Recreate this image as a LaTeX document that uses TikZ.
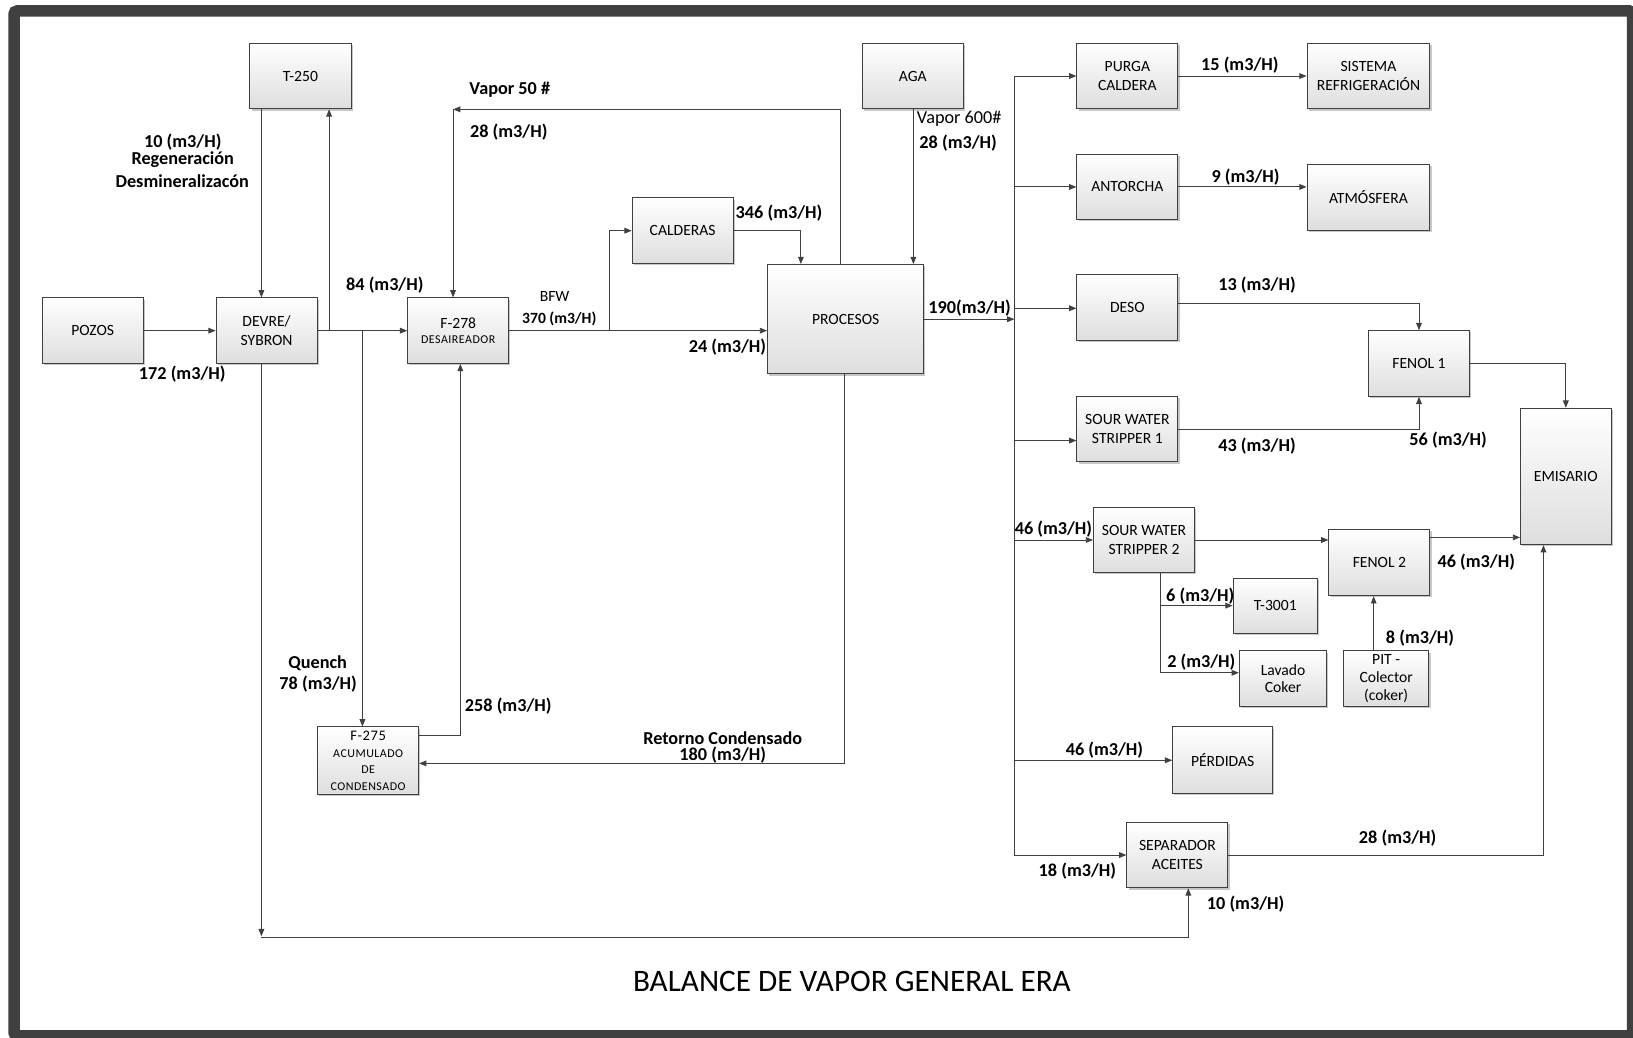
\documentclass[tikz,border=0pt]{standalone}
\usepackage{fontspec}
\setmainfont{Carlito}
\newfontfamily\spacedfont[LetterSpace=4]{Carlito}
\usetikzlibrary{arrows.meta,shadows,calc}

\definecolor{linegray}{HTML}{404040}
\definecolor{framegray}{HTML}{404040}

\tikzset{
  box/.style={draw=linegray, line width=0.9pt, top color=white, bottom color=black!13,
    minimum width=97pt, minimum height=63pt, align=center, inner sep=1pt,
    font=\fontsize{15}{18}\selectfont,
    drop shadow={shadow xshift=1.6pt, shadow yshift=-1.6pt, opacity=0.22, fill=black}},
  smallbox/.style={box, font=\fontsize{15}{17}\selectfont},
  pipe/.style={draw=linegray, line width=0.9pt},
  flow/.style={pipe, -{Triangle[length=7pt,width=5.5pt]}},
  btxt/.style={font=\fontsize{17.5}{20}\selectfont\bfseries, inner sep=0pt},
  rtxt/.style={font=\fontsize{17.5}{20}\selectfont, inner sep=0pt},
}

\begin{document}
\begin{tikzpicture}[x=1pt,y=-1pt]
\useasboundingbox (0,0) rectangle (1568,996);
\clip (0,0) rectangle (1568,996);
\fill[white] (0,0) rectangle (1568,996);

% outer frame
\draw[framegray, line width=11pt, rounded corners=3pt] (13.5,10.5) rectangle (1567.5,994.5);

% ---------------- equipment ----------------
\node[box] (t250)  at (288.5,73)  {T-250};
\node[box] (pozos) at (89,317.5)  {POZOS};
\node[box] (devre) at (256,317.5) {DEVRE/\\SYBRON};
\node[box] (f278)  at (440,317.5) {F-278\\[-3pt]{\spacedfont\fontsize{11.5}{14}\selectfont DESAIREADOR}};
\node[box] (calderas) at (655.5,221.5) {CALDERAS};
\node[box, minimum width=150pt, minimum height=105pt] (procesos) at (812,306.5) {PROCESOS};
\node[box] (aga)   at (876.5,73) {AGA};
\node[box] (purga) at (1082.5,73) {PURGA\\CALDERA};
\node[box, minimum width=118pt] (sistema) at (1314,73) {SISTEMA\\REFRIGERACIÓN};
\node[box] (antorcha) at (1082.5,179.5) {ANTORCHA};
\node[box, minimum width=118pt] (atmosfera) at (1314,189.5) {ATMÓSFERA};
\node[box] (deso)   at (1082.5,295.5) {DESO};
\node[box] (fenol1) at (1362.5,349) {FENOL 1};
\node[box] (sws1)   at (1082.5,412) {SOUR WATER\\STRIPPER 1};
\node[box, minimum width=87pt, minimum height=131pt] (emisario) at (1503.5,457.5) {EMISARIO};
\node[box] (sws2)   at (1098.5,518.5) {SOUR WATER\\STRIPPER 2};
\node[box, minimum height=64pt] (fenol2) at (1324.5,540) {FENOL 2};
\node[smallbox, minimum width=81pt, minimum height=53pt] (t3001) at (1224.5,581.5) {T-3001};
\node[smallbox, minimum width=84pt, minimum height=53pt] (lavado) at (1232,651.5) {Lavado\\Coker};
\node[smallbox, minimum width=82pt, minimum height=53pt, inner sep=0pt] (pit) at (1331,651.5) {PIT -\\Colector\\(coker)};
\node[box, minimum width=96pt, minimum height=64pt] (perdidas) at (1174,730) {PÉRDIDAS};
\node[box] (separador) at (1130.5,821) {SEPARADOR\\ACEITES};
\node[box, minimum height=65pt, inner sep=0pt, font=\spacedfont\fontsize{11.5}{16}\selectfont] (f275) at (353.5,730.5)
  {{\fontsize{14}{16}\selectfont F-275}\\ACUMULADO\\DE\\CONDENSADO};

% ---------------- junction points ----------------
\coordinate (ret)    at (251,900);
\coordinate (v50)    at (435,105);
\coordinate (bustop) at (974,73);
\coordinate (busbot) at (974,821);

% ---------------- water side ----------------
\draw[flow] (pozos) -- (devre);
\draw[flow] (t250.south -| 251,0) -- (devre.north -| 251,0);
\draw[flow] (devre) -- (f278);
\draw[flow] (devre.east -| 316,0) -- (t250.south -| 316,0);
\draw[flow] (devre.east -| 348,0) -- (f275.north -| 348,0);
\draw[flow] (f275.east |- 0,706) -| (f278.south -| 442,0);
\draw[flow] (procesos.south -| 811,0) |- (f275.east |- 0,733);
\draw[flow] (devre.south -| ret) -- ($(ret)+(0,-1)$);
\draw[flow] (ret) -| (separador.south -| 1141,0);

% ---------------- steam side ----------------
\draw[flow] (procesos.north -| 807,0) |- (v50);
\draw[flow] (v50) -- (f278.north -| v50);
\draw[flow] (f278.east) -- (procesos.west |- f278.east);
\draw[flow] (f278.east -| 585,0) |- (calderas.west);
\draw[flow] (calderas.east) -| (procesos.north -| 769,0);
\draw[flow] (aga.south -| 877,0) -- (procesos.north -| 877,0);
\draw[flow] (procesos.east) -- (procesos.east -| bustop);

% ---------------- distribution header ----------------
\draw[pipe] (bustop) -- (busbot);
\draw[flow] (bustop) -- (purga);
\draw[flow] (antorcha.west -| bustop) -- (antorcha);
\draw[flow] (bustop |- 0,296) -- (deso.west |- 0,296);
\draw[flow] (bustop |- 0,423) -- (sws1.west |- 0,423);
\draw[flow] (sws2.west -| bustop) -- (sws2);
\draw[flow] (perdidas.west -| bustop) -- (perdidas);
\draw[flow] (busbot) -- (separador);

\draw[flow] (purga) -- (sistema);
\draw[flow] (antorcha.east) -- (atmosfera.west |- antorcha.east);
\draw[flow] (deso.east |- 0,291) -| (fenol1.north);
\draw[flow] (sws1.east) -| (fenol1.south);
\draw[flow] (fenol1.east) -| (emisario.north);
\draw[flow] (sws2.east) -- (fenol2.west |- sws2.east);
\draw[flow] (fenol2.east |- 0,516) -- (emisario.west |- 0,516);
\draw[flow] (sws2.south -| 1114,0) |- (t3001.west);
\draw[flow] (sws2.south -| 1114,0) |- (lavado.west |- 0,646);
\draw[flow] (pit.north -| 1319,0) -- (fenol2.south -| 1319,0);
\draw[flow] (separador.east) -| (emisario.south -| 1482,0);

% ---------------- flow labels ----------------
\node[btxt] (q172) at (175,359) {172 (m3/H)};
\node[btxt] (q10a) at (175.5,136) {10 (m3/H)};
\node[btxt] (reg)  at (175.5,153) {Regeneración};
\node[btxt] (desm) at (175,174) {Desmineralizacón};
\node[btxt] (q84)  at (369.5,274) {84 (m3/H)};
\node[btxt] (v50t) at (489.5,86) {Vapor 50 \#};
\node[btxt] (q28a) at (488.5,127) {28 (m3/H)};
\node[inner sep=0pt, font=\fontsize{15}{18}\selectfont] (bfw) at (532.5,285) {BFW};
\node[inner sep=0pt, font=\fontsize{15}{18}\selectfont\bfseries] (q370) at (537,306) {370 (m3/H)};
\node[btxt] (q346) at (748,205) {346 (m3/H)};
\node[btxt] (q24)  at (698.5,333) {24 (m3/H)};
\node[rtxt] (v600) at (921,114) {Vapor 600\#};
\node[btxt] (q28b) at (920,137) {28 (m3/H)};
\node[btxt] (q190) at (931,296) {190(m3/H)};
\node[btxt] (q15)  at (1190.5,63) {15 (m3/H)};
\node[btxt] (q9)   at (1196,170) {9 (m3/H)};
\node[btxt] (q13)  at (1207,274) {13 (m3/H)};
\node[btxt] (q43)  at (1207,428) {43 (m3/H)};
\node[btxt] (q56)  at (1390.5,423) {56 (m3/H)};
\node[btxt] (q46a) at (1011.5,508) {46 (m3/H)};
\node[btxt] (q46b) at (1417.5,540) {46 (m3/H)};
\node[btxt] (q6)   at (1152.5,572) {6 (m3/H)};
\node[btxt] (q2)   at (1153.5,636) {2 (m3/H)};
\node[btxt] (q8)   at (1363.5,613) {8 (m3/H)};
\node[btxt] (q46c) at (1060.5,720) {46 (m3/H)};
\node[btxt] (q28c) at (1342,805) {28 (m3/H)};
\node[btxt] (q18)  at (1034.5,836) {18 (m3/H)};
\node[btxt] (q10b) at (1196,868) {10 (m3/H)};
\node[btxt] (qch)  at (305,637) {Quench};
\node[btxt] (q78)  at (305.5,657) {78 (m3/H)};
\node[btxt] (q258) at (488,678) {258 (m3/H)};
\node[btxt, align=center, font=\fontsize{17.5}{15}\selectfont\bfseries] (retc) at (694,717.5)
  {Retorno Condensado\\180 (m3/H)};

% ---------------- title ----------------
\node[inner sep=0pt, font=\fontsize{30}{36}\selectfont] (title) at (818,942) {BALANCE DE VAPOR GENERAL ERA};
\end{tikzpicture}
\end{document}
